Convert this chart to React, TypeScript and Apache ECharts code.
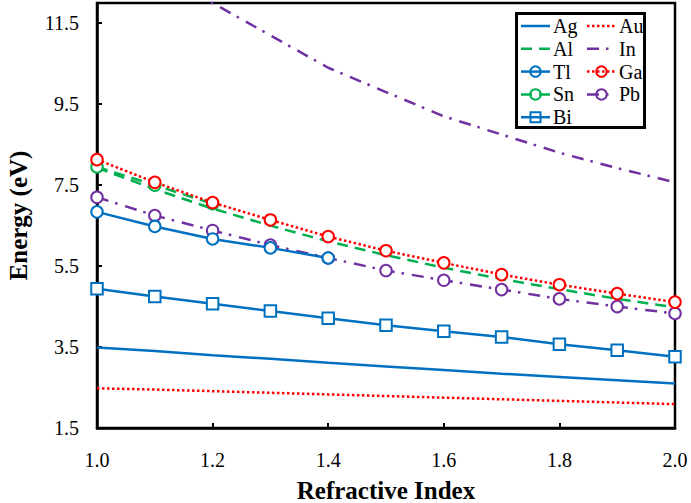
import React, { useEffect, useRef } from "react";
import * as echarts from "echarts";

const xValues = [1.0, 1.1, 1.2, 1.3, 1.4, 1.5, 1.6, 1.7, 1.8, 1.9, 2.0];
const agValues = [3.49, 3.40, 3.30, 3.21, 3.11, 3.02, 2.93, 2.84, 2.76, 2.68, 2.60];
const auValues = [2.48, 2.45, 2.41, 2.37, 2.33, 2.29, 2.25, 2.21, 2.17, 2.13, 2.09];
const alValues = [7.93, 7.40, 6.92, 6.50, 6.11, 5.77, 5.46, 5.18, 4.93, 4.69, 4.48];
const inValues = [13.9, 12.9, 12.0, 11.2, 10.4, 9.8, 9.2, 8.75, 8.3, 7.92, 7.57];
const tlValues = [6.84, 6.48, 6.17, 5.95, 5.70];
const gaValues = [8.13, 7.57, 7.07, 6.64, 6.23, 5.88, 5.58, 5.29, 5.04, 4.82, 4.61];
const snValues = [7.95, 7.50, 7.04];
const pbValues = [7.20, 6.75, 6.38, 6.02, 5.70, 5.39, 5.15, 4.92, 4.69, 4.50, 4.33];
const biValues = [4.94, 4.75, 4.57, 4.39, 4.21, 4.04, 3.89, 3.75, 3.57, 3.42, 3.26];

const legendCol1 = ["Ag", "Al", "Tl", "Sn", "Bi"];
const legendCol2 = ["Au", "In", "Ga", "Pb"];

const BLUE = "#0070C0";
const RED = "#FF0000";
const GREEN = "#00B050";
const PURPLE = "#7030A0";
const FONT = "Liberation Serif";

const DASH_DOT = [12, 7, 2.5, 8];
const DOTTED = [2.5, 2.5];
const DASHED = [11, 7];

const STYLES: Record<string, { color: string; dash: any; symbol: string }> = {
  Ag: { color: BLUE, dash: "solid", symbol: "none" },
  Au: { color: RED, dash: DOTTED, symbol: "none" },
  Al: { color: GREEN, dash: DASHED, symbol: "none" },
  In: { color: PURPLE, dash: DASH_DOT, symbol: "none" },
  Tl: { color: BLUE, dash: "solid", symbol: "emptyCircle" },
  Ga: { color: RED, dash: DOTTED, symbol: "emptyCircle" },
  Sn: { color: GREEN, dash: DASHED, symbol: "emptyCircle" },
  Pb: { color: PURPLE, dash: DASH_DOT, symbol: "emptyCircle" },
  Bi: { color: BLUE, dash: "solid", symbol: "emptyRect" },
};

const pairs = (vals: number[]) => vals.map((v, i) => [xValues[i], v]);

function legendGraphics() {
  const els: any[] = [
    {
      type: "rect",
      shape: { x: 516.5, y: 13.5, width: 128, height: 114 },
      style: { fill: "#fff", stroke: "#000", lineWidth: 3 },
      z: 100,
      silent: true,
    },
  ];
  const cols = [legendCol1, legendCol2];
  const colX = [521, 587];
  cols.forEach((names, c) => {
    names.forEach((name, r) => {
      const st = STYLES[name];
      const y = 26 + r * 22.8;
      const x0 = colX[c];
      const cx = x0 + 14.5;
      if (st.symbol === "emptyCircle") {
        els.push({
          type: "circle",
          shape: { cx, cy: y, r: 5.2 },
          style: { fill: "#fff", stroke: st.color, lineWidth: 2 },
          z: 101,
          silent: true,
        });
      } else if (st.symbol === "emptyRect") {
        els.push({
          type: "rect",
          shape: { x: cx - 5, y: y - 5, width: 10, height: 10 },
          style: { fill: "#fff", stroke: st.color, lineWidth: 2 },
          z: 101,
          silent: true,
        });
      }
      els.push({
        type: "line",
        shape: { x1: x0, y1: y, x2: x0 + 29, y2: y },
        style: {
          stroke: st.color,
          lineWidth: 2.5,
          lineDash: st.dash === "solid" ? null : st.dash,
        },
        z: 102,
        silent: true,
      });
      els.push({
        type: "text",
        x: x0 + 32,
        y,
        style: {
          text: name,
          fontFamily: FONT,
          fontSize: 20,
          fill: "#000",
          verticalAlign: "middle",
          align: "left",
        },
        z: 103,
        silent: true,
      });
    });
  });
  return els;
}

export default function App() {
  const ref = useRef<HTMLDivElement>(null);
  useEffect(() => {
    if (!ref.current) return;
    const chart = echarts.init(ref.current, null, { renderer: "svg" });
    const mk = (name: string, vals: number[]) => {
      const st = STYLES[name];
      return {
        name,
        type: "line",
        data: pairs(vals),
        color: st.color,
        symbol: st.symbol,
        symbolSize: 11.5,
        showSymbol: st.symbol !== "none",
        lineStyle: { color: st.color, width: 2.5, type: st.dash },
        itemStyle: { color: st.color, borderColor: st.color, borderWidth: 2 },
        emphasis: { disabled: true },
        clip: true,
      };
    };
    chart.setOption({
      animation: false,
      backgroundColor: "#fff",
      grid: {
        left: 97,
        right: 16,
        top: 3,
        bottom: 75,
        show: true,
        borderColor: "#000",
        borderWidth: 2.5,
        containLabel: false,
        outerBoundsMode: "none",
      },
      xAxis: {
        type: "value",
        min: 1,
        max: 2,
        interval: 0.2,
        name: "Refractive Index",
        nameLocation: "middle",
        nameGap: 50,
        nameTextStyle: { fontFamily: FONT, fontSize: 25, fontWeight: "bold", color: "#000" },
        axisLine: { show: true, lineStyle: { color: "#000", width: 2.5 } },
        axisTick: { show: true, inside: true, length: 5, lineStyle: { color: "#000", width: 2 } },
        axisLabel: {
          margin: 22,
          fontFamily: FONT,
          fontSize: 20,
          color: "#000",
          formatter: (v: number) => v.toFixed(1),
        },
        splitLine: { show: false },
      },
      yAxis: {
        type: "value",
        min: 1.5,
        max: 12,
        interval: 2,
        name: "Energy (eV)",
        nameLocation: "middle",
        nameGap: 66,
        nameRotate: 90,
        nameTextStyle: { fontFamily: FONT, fontSize: 25, fontWeight: "bold", color: "#000" },
        axisLine: { show: true, lineStyle: { color: "#000", width: 2.5 } },
        axisTick: { show: true, inside: true, length: 5, lineStyle: { color: "#000", width: 2 } },
        axisLabel: {
          margin: 18,
          fontFamily: FONT,
          fontSize: 20,
          color: "#000",
          showMaxLabel: false,
          formatter: (v: number) => (Math.abs(v - 12) < 1e-6 ? "" : v.toFixed(1)),
        },
        splitLine: { show: false },
      },
      graphic: legendGraphics(),
      series: [
        mk("Ag", agValues),
        mk("Au", auValues),
        mk("Al", alValues),
        mk("In", inValues),
        mk("Bi", biValues),
        mk("Pb", pbValues),
        mk("Tl", tlValues),
        mk("Sn", snValues),
        mk("Ga", gaValues),
      ],
    });
    return () => chart.dispose();
  }, []);
  return (
    <div
      ref={ref}
      style={{ position: "absolute", left: 0, top: 0, width: 691, height: 503 }}
    />
  );
}
